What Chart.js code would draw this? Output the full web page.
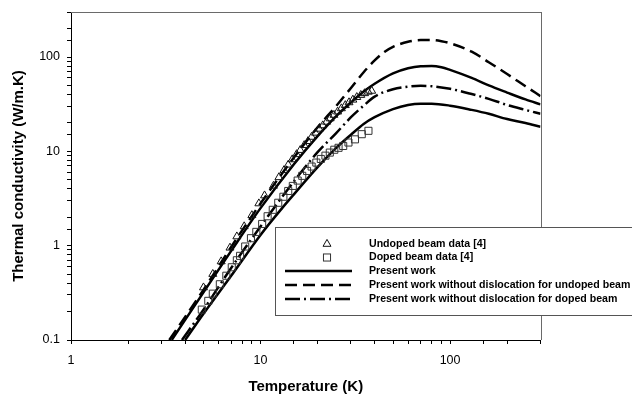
<!DOCTYPE html>
<html><head><meta charset="utf-8">
<script src="https://cdn.jsdelivr.net/npm/chart.js@4/dist/chart.umd.min.js"></script>
<style>html,body{margin:0;padding:0;background:#fff;overflow:hidden}</style>
</head><body>
<canvas id="c" width="632" height="394"></canvas>
<script>
// ---- data ----
const undopedDataT = [5.0,5.6,6.2,6.9,7.5,8.2,9.0,9.8,10.5,11.7,12.5,13.3,14.0,14.7,15.5,16.2,17.0,17.8,18.6,19.5,20.4,21.3,22.3,23.3,24.4,25.5,26.7,28.0,29.3,30.7,32.2,33.8,35.4,37.0,38.6];
const undopedDataK = [0.36,0.5,0.68,0.95,1.25,1.6,2.1,2.8,3.4,4.3,5.3,6.3,7.2,8.2,9.3,10.3,11.6,12.8,14.2,15.7,17.3,18.8,20.5,22.3,24.3,26.3,28.5,30.8,33.0,35.2,37.5,39.5,41.2,42.7,43.7];
const dopedDataT = [4.9,5.3,5.6,6.1,6.6,7.05,7.5,7.8,8.3,8.9,9.5,10.2,10.9,11.6,12.4,13.2,14.0,14.8,15.7,16.6,17.6,18.6,19.7,20.8,22.0,23.2,24.5,25.8,27.3,29.1,31.5,34.2,37.1];
const dopedDataK = [0.21,0.26,0.31,0.39,0.48,0.59,0.7,0.78,0.98,1.2,1.4,1.7,2.05,2.4,2.85,3.3,3.8,4.3,4.9,5.5,6.2,6.9,7.6,8.3,9.0,9.7,10.4,10.9,11.4,12.4,13.4,15.2,16.5];

const presentUndopedT = [3.4,5,7,10,15,20,25,30,35,40,50,60,70,80,90,100,130,160,200,250,300];
const presentUndopedK = [0.1,0.32,0.88,2.5,7.3,14.5,23.5,33,43,52,67,76,80,80.5,78,73,60,50,42,35.5,31.5];
const noDislUndopedT = [3.3,5,7,10,15,20,25,30,35,40,45,50,60,70,80,90,100,130,160,200,250,300];
const noDislUndopedK = [0.1,0.34,0.97,2.8,8.6,18,30,47,69,92,113,128,145,151,151,147,140,114,88,66,49,38.5];
const noDislDopedT = [3.85,5,7,10,15,20,25,30,35,40,50,60,70,80,100,130,160,200,250,300];
const noDislDopedK = [0.1,0.21,0.58,1.6,4.8,9.8,15.5,23,30.5,38,45.5,48.5,49.5,49,46,40.5,36,31,27.5,25];
const presentDopedT = [4,5,7,10,13,15,20,25,30,35,40,50,60,70,80,100,130,160,200,250,300];
const presentDopedK = [0.1,0.19,0.48,1.3,2.5,3.5,6.8,10.8,15,19.5,23,28,31,32,32,30.5,27.5,25,22,20,18.2];

const xTickLabels = [1,10,100];
const yTickLabels = [0.1,1,10,100];
const legendLabels = ['Undoped beam data [4]','Doped beam data [4]','Present work','Present work without dislocation for undoped beam','Present work without dislocation for doped beam'];
const xTitle = 'Temperature (K)';
const yTitle = 'Thermal conductivity (W/m.K)';

// ---- helpers ----
const pts = (T,K) => T.map((t,i)=>({x:t,y:K[i]}));
const isDecade = v => Math.abs(Math.log10(v) - Math.round(Math.log10(v))) < 1e-6;
const FONT = "'Liberation Sans', Arial, Helvetica, sans-serif";
Chart.defaults.font.family = FONT;
Chart.defaults.color = '#000';

const DASH = [12,6];
const DASHDOT = [15,4,2,4];

const lineDs = (label, T, K, dash) => ({
  label, data: pts(T,K), showLine:true, pointRadius:0, borderColor:'#000',
  borderWidth:2.5, borderDash:dash, cubicInterpolationMode:'monotone', fill:false
});

const datasets = [
  {label:legendLabels[0], data:pts(undopedDataT,undopedDataK), pointStyle:'triangle', pointRadius:4.6,
   borderColor:'#111', backgroundColor:'rgba(0,0,0,0)', pointBorderWidth:1, showLine:false},
  {label:legendLabels[1], data:pts(dopedDataT,dopedDataK), pointStyle:'rect', pointRadius:5,
   borderColor:'#333', backgroundColor:'rgba(0,0,0,0)', pointBorderWidth:1, showLine:false},
  lineDs(legendLabels[2], presentUndopedT, presentUndopedK, []),
  lineDs(legendLabels[3], noDislUndopedT, noDislUndopedK, DASH),
  lineDs(legendLabels[4], noDislDopedT, noDislDopedK, DASHDOT),
  lineDs(legendLabels[2], presentDopedT, presentDopedK, []),
];

const framePlugin = {
  id:'frame',
  afterDraw(chart){
    const ctx = chart.ctx, a = chart.chartArea;
    const L = Math.round(a.left), R = Math.round(a.right), TOP = Math.round(a.top), B = Math.round(a.bottom);
    ctx.save();
    ctx.setLineDash([]);
    ctx.fillStyle = '#6a6a6a';
    ctx.fillRect(L, TOP, R - L + 1, 1);
    ctx.fillRect(R, TOP, 1, B - TOP);

    // legend box
    const bx = 275.5, by = 227.5, bw = 380, bh = 88;
    ctx.fillStyle = '#fff';
    ctx.fillRect(bx, by, bw, bh);
    ctx.strokeStyle = '#555'; ctx.lineWidth = 1;
    ctx.strokeRect(bx, by, bw, bh);
    const rows = [244,257.5,271,285,299];
    const lx0 = 285, lx1 = 352, mx = 327, tx = 369;
    ctx.strokeStyle = '#111'; ctx.lineWidth = 1;
    ctx.beginPath();
    const r = 4.6, y0 = rows[0];
    ctx.moveTo(mx, y0 - r); ctx.lineTo(mx + r*Math.sin(2*Math.PI/3), y0 - r*Math.cos(2*Math.PI/3));
    ctx.lineTo(mx + r*Math.sin(4*Math.PI/3), y0 - r*Math.cos(4*Math.PI/3)); ctx.closePath(); ctx.stroke();
    const s = 5*Math.SQRT1_2;
    ctx.strokeStyle = '#333';
    ctx.strokeRect(mx - s, rows[1]-s, 2*s, 2*s);
    const dashes = [[], DASH, DASHDOT];
    ctx.strokeStyle = '#000'; ctx.lineWidth = 2.5;
    for (let i=0;i<3;i++){
      ctx.setLineDash(dashes[i]);
      ctx.beginPath(); ctx.moveTo(lx0, rows[2+i]); ctx.lineTo(lx1, rows[2+i]); ctx.stroke();
    }
    ctx.setLineDash([]);
    ctx.fillStyle = '#000';
    ctx.font = "bold 10.6px " + FONT;
    ctx.textBaseline = 'middle'; ctx.textAlign = 'left';
    legendLabels.forEach((l,i)=>ctx.fillText(l, tx, rows[i]));
    ctx.restore();
  }
};

const gridOpts = {display:true, drawOnChartArea:false, drawTicks:true, tickLength:4, tickColor:'#000', tickWidth:1, color:'#000'};

new Chart(document.getElementById('c'), {
  type:'scatter',
  data:{datasets},
  options:{
    responsive:false, animation:false, devicePixelRatio:1,
    layout:{padding:{left:0,right:91.5,top:12,bottom:0}},
    plugins:{legend:{display:false}, tooltip:{enabled:false}},
    scales:{
      x:{type:'logarithmic', min:1, max:300, position:'bottom',
         border:{color:'#000', width:1},
         grid:gridOpts,
         ticks:{autoSkip:false, maxRotation:0, padding:9, font:{size:12.5},
                callback:(v)=> (isDecade(v) && xTickLabels.includes(Math.round(v))) ? String(Math.round(v)) : ''},
         title:{display:true, text:xTitle, font:{size:15, weight:'bold', lineHeight:1.0}, padding:{top:0,bottom:0}},
         afterFit:(s)=>{s.height = 54; s.paddingLeft = 0; s.paddingRight = 0;}
      },
      y:{type:'logarithmic', min:0.1, max:300, position:'left',
         border:{color:'#000', width:1},
         grid:gridOpts,
         ticks:{autoSkip:false, padding:7, font:{size:12.5},
                callback:(v)=> {
                  if (!isDecade(v)) return '';
                  const lab = yTickLabels.find(t=>Math.abs(Math.log10(t)-Math.log10(v))<1e-6);
                  return lab===undefined ? '' : String(lab);
                }},
         title:{display:true, text:yTitle, font:{size:15, weight:'bold'}, padding:{top:9.5,bottom:0}},
         afterFit:(s)=>{s.width = 71; s.paddingTop = 0; s.paddingBottom = 0;}
      }
    }
  },
  plugins:[framePlugin]
});
</script>
</body></html>
